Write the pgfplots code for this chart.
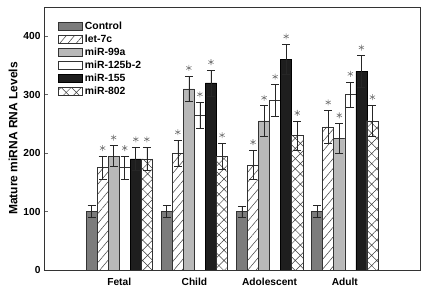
\documentclass[border=0pt]{standalone}
\usepackage{fontspec}
\setmainfont{Liberation Sans}
\usepackage{pgfplots}
\pgfplotsset{compat=1.18}
\usepackage{pgfplotstable}
\usetikzlibrary{patterns.meta}

\definecolor{ctlgray}{HTML}{7C7C7C}
\definecolor{lightg}{HTML}{B8B8B8}
\definecolor{darkb}{HTML}{1E1E1E}
\definecolor{stargray}{HTML}{707070}

\pgfplotstableread{
x ctl ctle let lete a99 a99e b125 b125e m155 m155e m802 m802e
1 100 10 175 20 195 18 175 20 190 20 190 20
2 100 10 200 22 310 22 265 22 320 22 195 22
3 100 9  180 25 255 26 290 27 360 26 230 25
4 100 10 245 28 225 26 300 22 340 27 255 27
}\data

\begin{document}
\begin{tikzpicture}
\begin{axis}[
  scale only axis, width=376pt, height=263pt,
  ybar, bar width=0.147,
  xmin=0, xmax=5, ymin=0, ymax=450,
  xtick={1,2,3,4}, xticklabels={Fetal,Child,Adolescent,Adult},
  x tick style={draw=none},
  ytick={0,100,200,300,400}, ytick pos=left, tick align=inside,
  y tick style={black!60, line width=0.8pt}, major tick length=4pt,
  axis line style={black!80, line width=0.6pt},
  /pgf/number format/assume math mode=true,
  tick label style={font=\bfseries\fontsize{10.2}{12}\selectfont},
  xticklabel style={yshift=-5pt},
  ylabel={Mature miRNA RNA Levels},
  ylabel style={font=\bfseries\fontsize{12}{14}\selectfont, yshift=-1pt},
  legend image code/.code={\draw[#1] (0pt,-3.8pt) rectangle (24pt,3.8pt);},
  legend style={draw=none, fill=none, at={(0.03,0.96)}, anchor=north west,
    font=\bfseries\fontsize{10.4}{12}\selectfont, row sep=0pt, cells={anchor=west}},
  error bars/error bar style={black!85, line width=0.6pt},
  error bars/error mark options={rotate=90, mark size=4pt, line width=0.6pt, black!85},
]
% bars
\addplot[fill=ctlgray, draw=black!80, line width=0.5pt, bar shift=-0.3675,
  error bars/.cd, y dir=both, y explicit] table[x=x, y=ctl, y error=ctle]{\data};
\addplot[fill=white, draw=black!80, line width=0.5pt, bar shift=-0.2205,
  postaction={pattern={Lines[angle=50, distance=6.3pt, line width=0.5pt]}, pattern color=black!75},
  error bars/.cd, y dir=both, y explicit] table[x=x, y=let, y error=lete]{\data};
\addplot[fill=lightg, draw=black!80, line width=0.5pt, bar shift=-0.0735,
  error bars/.cd, y dir=both, y explicit] table[x=x, y=a99, y error=a99e]{\data};
\addplot[fill=white, draw=black!80, line width=0.5pt, bar shift=0.0735,
  error bars/.cd, y dir=both, y explicit] table[x=x, y=b125, y error=b125e]{\data};
\addplot[fill=darkb, draw=black, line width=0.5pt, bar shift=0.2205,
  error bars/.cd, y dir=both, y explicit] table[x=x, y=m155, y error=m155e]{\data};
\addplot[fill=white, draw=black!80, line width=0.5pt, bar shift=0.3675,
  postaction={pattern={Hatch[angle=45, distance=7.2pt, line width=0.5pt]}, pattern color=black!75},
  error bars/.cd, y dir=both, y explicit] table[x=x, y=m802, y error=m802e]{\data};
\legend{Control, let-7c, miR-99a, miR-125b-2, miR-155, miR-802}
% asterisks above the error bars
\pgfplotsset{star/.style={only marks, bar shift=0pt, mark=asterisk, mark size=3pt, color=stargray, forget plot,
  mark options={line width=0.55pt, yshift=8pt}}}
\addplot[star] table[x expr=\thisrow{x}-0.2205, y expr=\thisrow{let}+\thisrow{lete}]{\data};
\addplot[star] table[x expr=\thisrow{x}-0.0735, y expr=\thisrow{a99}+\thisrow{a99e}]{\data};
\addplot[star] table[x expr=\thisrow{x}+0.0735, y expr=\thisrow{b125}+\thisrow{b125e}]{\data};
\addplot[star] table[x expr=\thisrow{x}+0.2205, y expr=\thisrow{m155}+\thisrow{m155e}]{\data};
\addplot[star] table[x expr=\thisrow{x}+0.3675, y expr=\thisrow{m802}+\thisrow{m802e}]{\data};
\end{axis}
\path (current axis.south west) +(-44pt,-21pt) (current axis.north east) +(6pt,7pt);
\end{tikzpicture}
\end{document}
